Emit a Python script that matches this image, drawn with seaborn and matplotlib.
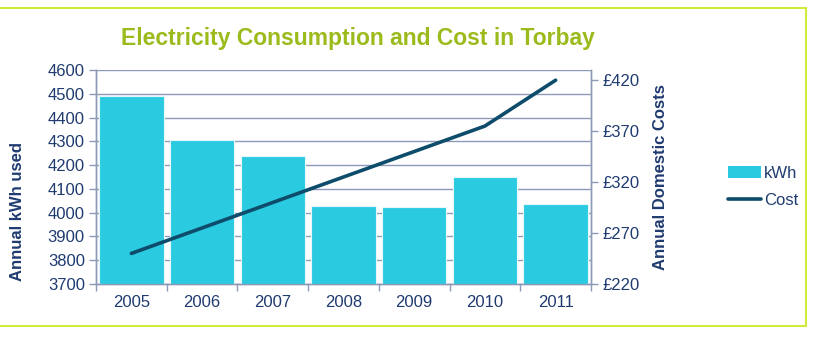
import matplotlib
matplotlib.use("Agg")
import matplotlib.pyplot as plt
from matplotlib.lines import Line2D
from matplotlib.patches import Patch
from matplotlib.ticker import FuncFormatter, MultipleLocator, FixedLocator
import seaborn as sns
import pandas as pd
import numpy as np

years = ["2005", "2006", "2007", "2008", "2009", "2010", "2011"]
kwh_used = [4490, 4305, 4240, 4030, 4025, 4150, 4035]
domestic_cost = [250, 275, 300, 325, 350, 375, 420]

BAR = "#2ACBE0"
LINE = "#0D4C6B"
NAVY = "#1F3B70"
GRID = "#8C9AB8"
FRAME = "#D2EA3A"
TITLE = "#9BBB1C"

sns.set_theme(style="white")
plt.rcParams["font.family"] = ["Liberation Sans", "DejaVu Sans"]

df = pd.DataFrame({"year": years, "kwh": kwh_used, "cost": domestic_cost})

fig = plt.figure(figsize=(8.18, 3.37), dpi=100)
ax = fig.add_axes([96 / 818, 1 - 284 / 337, 495 / 818, 214 / 337])

sns.barplot(data=df, x="year", y="kwh", color=BAR, saturation=1, width=0.91,
            edgecolor="#E6F8FB", linewidth=0.8, ax=ax, zorder=3)
ax.set_ylim(3700, 4600)
ax.yaxis.set_major_locator(MultipleLocator(100))
ax.set_xlim(-0.5, len(years) - 0.5)
ax.grid(axis="y", color=GRID, linewidth=1, zorder=0)
ax.set_axisbelow(True)
ax.set_xlabel("")
ax.set_ylabel("Annual kWh used", color=NAVY, fontsize=12, fontweight="bold",
              va="center")
ax.yaxis.set_label_coords(-0.158, 0.34)

ax2 = ax.twinx()
sns.lineplot(data=df, x=np.arange(len(years)), y="cost", color=LINE, linewidth=2.6,
             ax=ax2, zorder=4, solid_capstyle="round")
ax2.set_ylim(220, 430)
ax2.yaxis.set_major_locator(FixedLocator([220, 270, 320, 370, 420]))
ax2.yaxis.set_major_formatter(FuncFormatter(lambda v, p: f"£{v:.0f}"))
ax2.set_ylabel("Annual Domestic Costs", color=NAVY, fontsize=12, fontweight="bold", labelpad=10)
ax2.set_xlim(-0.5, len(years) - 0.5)

for a in (ax, ax2):
    for side in ("left", "right", "bottom"):
        a.spines[side].set_color(GRID)
        a.spines[side].set_linewidth(1)
    a.spines["top"].set_visible(False)
    a.tick_params(axis="y", colors=GRID, labelcolor=NAVY, labelsize=12,
                  length=5, width=1, direction="out", left=(a is ax), right=(a is ax2),
                  pad=3)

ax.set_xticks(range(len(years)))
ax.set_xticklabels(years)
ax.set_xticks(np.arange(-0.5, len(years)), minor=True)
ax.tick_params(axis="x", which="major", length=0, labelcolor=NAVY, labelsize=12, pad=8)
ax.tick_params(axis="x", which="minor", length=5, width=1, color=GRID, bottom=True)
ax2.tick_params(axis="x", bottom=False, top=False, labelbottom=False)

fig.text(358 / 818, 1 - 38 / 337, "Electricity Consumption and Cost in Torbay",
         ha="center", va="center", color=TITLE, fontsize=16.5, fontweight="bold")

handles = [Patch(facecolor=BAR, edgecolor="none", label="kWh"),
           Line2D([0], [0], color=LINE, linewidth=2.6, solid_capstyle="round", label="Cost")]
fig.legend(handles=handles, loc="center left", bbox_to_anchor=(713 / 818, 1 - 187 / 337),
           frameon=False, fontsize=12, labelcolor=NAVY, handlelength=2.0,
           handletextpad=0.15, labelspacing=0.75)

# outer frame
fig.add_artist(Line2D([0, 806 / 818], [1 - 7.5 / 337] * 2, color=FRAME, lw=1.5,
                      transform=fig.transFigure))
fig.add_artist(Line2D([806 / 818] * 2, [1 - 7.5 / 337, 1 - 325.5 / 337], color=FRAME,
                      lw=1.5, transform=fig.transFigure))
fig.add_artist(Line2D([0, 806 / 818], [1 - 325.5 / 337] * 2, color=FRAME, lw=1.5,
                      transform=fig.transFigure))

fig.savefig("out.png", dpi=100)
